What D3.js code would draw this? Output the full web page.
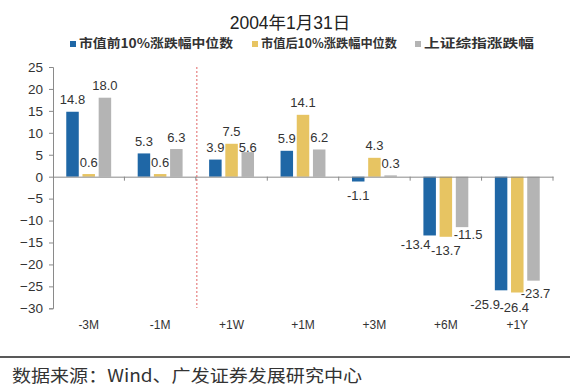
<!DOCTYPE html>
<html><head><meta charset="utf-8">
<script src="https://cdn.jsdelivr.net/npm/d3@7"></script>
<style>
html,body{margin:0;padding:0;background:#fff;}
svg{display:block;}
</style></head>
<body>
<svg id="chart" width="570" height="387"></svg>
<script>
const title = "2004年1月31日";
const categories = ["-3M","-1M","+1W","+1M","+3M","+6M","+1Y"];
const seriesNames = ["市值前10%涨跌幅中位数","市值后10%涨跌幅中位数","上证综指涨跌幅"];
const topDecile = [14.8,5.3,3.9,5.9,-1.1,-13.4,-25.9];
const bottomDecile = [0.6,0.6,7.5,14.1,4.3,-13.7,-26.4];
const indexChange = [18.0,6.3,5.6,6.2,0.3,-11.5,-23.7];
const yTicks = [25,20,15,10,5,0,-5,-10,-15,-20,-25,-30];
const sourceNote = "数据来源：Wind、广发证券发展研究中心";

const colors = ["#1F67A6","#E7C462","#B4B4B4"];
const labelNudge = {"2|+1W":[0,7],"0|+6M":[-14,-5],"2|+6M":[6,-7],"0|+1Y":[-16,0],"1|+1Y":[-3,1],"2|+1Y":[2,-1]};

const series = [topDecile, bottomDecile, indexChange];
const svg = d3.select("#chart");
const fontLatin = "'Liberation Sans', Arial, 'Noto Sans CJK SC', sans-serif";

const x = d3.scaleBand().domain(categories).range([53,553]).padding(0);
const y = d3.scaleLinear().domain([-30,25]).range([308.3,67]);
const barW = 12.5, stride = 16.2;

// title
svg.append("text").attr("x",290).attr("y",23).attr("dy","0.35em")
  .attr("text-anchor","middle").attr("font-family",fontLatin).attr("font-size",17.5)
  .attr("fill","#222").text(title);

// legend
const legX = [73,255,418], legW = [154,136,110];
seriesNames.forEach((n,i)=>{
  svg.append("rect").attr("x",legX[i]-3).attr("y",41).attr("width",6).attr("height",6).attr("fill",colors[i]);
  svg.append("text").attr("x",legX[i]+6).attr("y",44).attr("dy","0.35em")
    .attr("font-family","'Noto Sans CJK SC', sans-serif").attr("font-weight","bold")
    .attr("font-size",12.5).attr("fill","#333")
    .attr("textLength",legW[i]).attr("lengthAdjust","spacingAndGlyphs").text(n);
});

// y axis
const yAxis = svg.append("g").attr("transform","translate(53,0)")
  .call(d3.axisLeft(y).tickValues(yTicks).tickSize(4).tickPadding(6));
yAxis.select(".domain").attr("stroke","#8a8a8a");
yAxis.selectAll(".tick line").attr("stroke","#8a8a8a");
yAxis.selectAll(".tick text").attr("font-family",fontLatin).attr("font-size",13.5).attr("fill","#333");

// bars
series.forEach((vals,si)=>{
  svg.append("g").selectAll("rect").data(vals).join("rect")
    .attr("x",(d,i)=>x(categories[i])+x.bandwidth()/2+(si-1)*stride-barW/2)
    .attr("y",d=>y(Math.max(0,d)))
    .attr("width",barW)
    .attr("height",d=>Math.abs(y(d)-y(0)))
    .attr("fill",colors[si]);
});

// x axis at zero
const xAxis = svg.append("g").attr("transform",`translate(0,${y(0)})`)
  .call(d3.axisBottom(x).tickSize(0).tickFormat(""));
xAxis.select(".domain").attr("stroke","#8a8a8a");
const bounds = categories.map(c=>x(c)).concat([x.range()[1]]);
svg.append("g").selectAll("line").data(bounds.slice(1)).join("line")
  .attr("x1",d=>d).attr("x2",d=>d).attr("y1",y(0)).attr("y2",y(0)+4).attr("stroke","#8a8a8a");

// category labels
svg.append("g").selectAll("text").data(categories).join("text")
  .attr("x",d=>x(d)+x.bandwidth()/2).attr("y",325).attr("dy","0.35em")
  .attr("text-anchor","middle").attr("font-family",fontLatin).attr("font-size",12).attr("fill","#333")
  .text(d=>d);

// dashed red divider
svg.append("line").attr("x1",x("+1W")+1).attr("x2",x("+1W")+1).attr("y1",67).attr("y2",308)
  .attr("stroke","#E06666").attr("stroke-width",1).attr("stroke-dasharray","2,2");

// data labels
series.forEach((vals,si)=>{
  vals.forEach((v,i)=>{
    const c = categories[i];
    const nd = labelNudge[si+"|"+c] || [0,0];
    const cx = x(c)+x.bandwidth()/2+(si-1)*stride + nd[0];
    const cy = (v>=0 ? y(v)-12 : y(v)+14) + nd[1];
    svg.append("text").attr("x",cx).attr("y",cy).attr("dy","0.35em")
      .attr("text-anchor","middle").attr("font-family",fontLatin).attr("font-size",13)
      .attr("fill","#333").text(v.toFixed(1));
  });
});

// bottom rule and source
svg.append("line").attr("x1",0).attr("x2",570).attr("y1",357).attr("y2",357)
  .attr("stroke","#222").attr("stroke-width",1.5);
svg.append("text").attr("x",12).attr("y",376).attr("dy","0.35em")
  .attr("font-family","'Noto Sans CJK SC', sans-serif").attr("font-size",17)
  .attr("fill","#333").attr("textLength",350).attr("lengthAdjust","spacingAndGlyphs").text(sourceNote);
</script>
</body></html>
